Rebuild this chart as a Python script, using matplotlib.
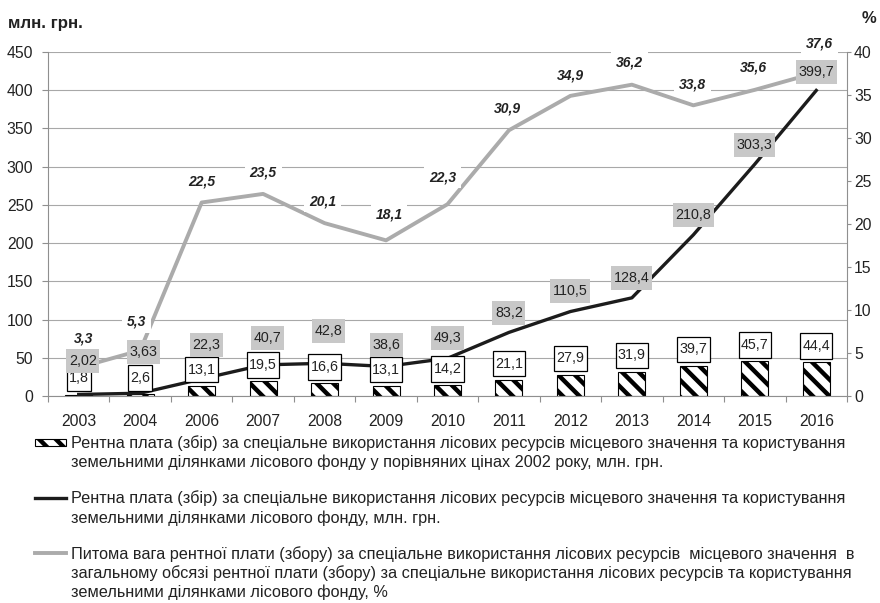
import numpy as np
import matplotlib
matplotlib.use("Agg")
import matplotlib.pyplot as plt
from matplotlib.patches import Rectangle
from matplotlib.lines import Line2D
from matplotlib.path import Path

# ---------------- data ----------------
years = ["2003", "2004", "2006", "2007", "2008", "2009", "2010",
         "2011", "2012", "2013", "2014", "2015", "2016"]
rent_real_2002 = [1.8, 2.6, 13.1, 19.5, 16.6, 13.1, 14.2, 21.1, 27.9, 31.9, 39.7, 45.7, 44.4]
rent_nominal = [2.02, 3.63, 22.3, 40.7, 42.8, 38.6, 49.3, 83.2, 110.5, 128.4, 210.8, 303.3, 399.7]
rent_share_pct = [3.3, 5.3, 22.5, 23.5, 20.1, 18.1, 22.3, 30.9, 34.9, 36.2, 33.8, 35.6, 37.6]
left_ticks = [0, 50, 100, 150, 200, 250, 300, 350, 400, 450]
right_ticks = [0, 5, 10, 15, 20, 25, 30, 35, 40]
unit_left = "млн. грн."
unit_right = "%"
legend_lines = [
    ["Рентна плата (збір) за спеціальне використання лісових ресурсів місцевого значення та користування",
     "земельними ділянками лісового фонду у порівняних цінах 2002 року, млн. грн."],
    ["Рентна плата (збір) за спеціальне використання лісових ресурсів місцевого значення та користування",
     "земельними ділянками лісового фонду, млн. грн."],
    ["Питома вага рентної плати (збору) за спеціальне використання лісових ресурсів  місцевого значення  в",
     "загальному обсязі рентної плати (збору) за спеціальне використання лісових ресурсів та користування",
     "земельними ділянками лісового фонду, %"],
]

# ---------------- label placement tweaks (pixels) ----------------
nominal_dx = [4, 3, 5, 4, 4, 0, 0, 0, 0, 0, 0, 0, 0]
nominal_gap = [21, 29, 22, 15, 20, 9.5, 8, 7, 8.5, 8, 8, 7, 6.5]
pct_dx = [5, -4, 0, 0, -2, 3, -5, -2, 0, -2, -1, -1, 3]
pct_dy = [29.6, 29, 20.5, 21, 22, 26, 27, 22, 20, 21.7, 21, 22, 29.6]


def fmt(v):
    return str(v).replace(".", ",")


FONT = "Liberation Sans"
plt.rcParams["font.family"] = [FONT, "DejaVu Sans"]
plt.rcParams["hatch.linewidth"] = 3.2
plt.rcParams["hatch.color"] = "black"
HATCH = "\\\\"

W, H = 880, 603
PX = 72.0 / 100.0  # points per pixel
fig = plt.figure(figsize=(8.8, 6.03), dpi=100)
fig.patch.set_facecolor("white")
L, R, B, T = 48, 847, 396, 52
ax = fig.add_axes([L / W, 1 - B / H, (R - L) / W, (B - T) / H])
ax2 = ax.twinx()


def rect_box(padx, pady):
    def box(x0, y0, width, height, mutation_size):
        px, py = padx * mutation_size, pady * mutation_size
        return Path([(x0 - px, y0 - py), (x0 + width + px, y0 - py),
                     (x0 + width + px, y0 + height + py), (x0 - px, y0 + height + py),
                     (x0 - px, y0 - py)], closed=True)
    return box


GRID = "#a8a8a8"
AXC = "#8f8f8f"
TXT = "#222222"
TICK_FS = 11.3
LBL_FS = 10.3
x = np.arange(len(years))

ax.bar(x, rent_real_2002, width=0.44, color="white", edgecolor="black",
       hatch=HATCH, linewidth=0.8, zorder=2)
ax.plot(x, rent_nominal, color="#1c1c1c", lw=2.4, zorder=3)
ax2.plot(x, rent_share_pct, color="#ababab", lw=2.8, zorder=2)

ax.set_xlim(-0.5, len(years) - 0.5)
ax.set_ylim(left_ticks[0], left_ticks[-1])
ax2.set_ylim(right_ticks[0], right_ticks[-1])
ax.set_yticks(left_ticks)
ax.set_yticklabels([str(t) for t in left_ticks])
ax2.set_yticks(right_ticks)
ax2.set_yticklabels([str(t) for t in right_ticks])
ax.yaxis.grid(True, color=GRID, lw=0.8)
ax.set_axisbelow(True)

ax.set_xticks(np.arange(-0.5, len(years), 1.0))
ax.set_xticklabels([])
ax.set_xticks(x, minor=True)
ax.set_xticklabels(years, minor=True)

for a in (ax, ax2):
    a.spines["top"].set_visible(False)
    for s in a.spines.values():
        s.set_color(AXC)
        s.set_linewidth(0.8)
ax.spines["right"].set_visible(False)
ax2.spines["left"].set_visible(False)
ax2.spines["bottom"].set_visible(False)

ax.tick_params(axis="y", direction="out", length=4.2, width=0.8, color=AXC,
               labelsize=TICK_FS, labelcolor=TXT, pad=6.5)
ax2.tick_params(axis="y", direction="out", length=3, width=0.8, color=AXC,
                labelsize=TICK_FS, labelcolor=TXT, pad=2)
ax.tick_params(axis="x", which="major", direction="out", length=4.5, width=0.8, color=AXC)
ax.tick_params(axis="x", which="minor", length=0, labelsize=TICK_FS, labelcolor=TXT, pad=13)

# bar value labels (white boxes)
bar_pady = 0.4
for i, v in enumerate(rent_real_2002):
    off = 3.5 + bar_pady * LBL_FS / PX
    ax2.annotate(fmt(v), xy=(x[i], v), xycoords=ax.transData,
                 xytext=(0, off * PX), textcoords="offset points",
                 ha="center", va="bottom", fontsize=LBL_FS, color=TXT, zorder=4,
                 annotation_clip=False,
                 bbox=dict(boxstyle=rect_box(0.16, bar_pady), fc="white", ec="black", lw=0.9))

# nominal line labels (grey boxes)
nom_pady = 0.36
for i, v in enumerate(rent_nominal):
    off = nominal_gap[i] + nom_pady * LBL_FS / PX
    ax2.annotate(fmt(v), xy=(x[i], v), xycoords=ax.transData,
                 xytext=(nominal_dx[i] * PX, off * PX), textcoords="offset points",
                 ha="center", va="bottom", fontsize=LBL_FS, color=TXT, zorder=5,
                 annotation_clip=False,
                 bbox=dict(boxstyle=rect_box(0.18, nom_pady), fc="#c8c8c8", ec="none"))

# share labels (bold italic)
for i, v in enumerate(rent_share_pct):
    ax2.annotate(fmt(v), xy=(x[i], v), xycoords=ax2.transData,
                 xytext=(pct_dx[i] * PX, pct_dy[i] * PX), textcoords="offset points",
                 ha="center", va="center", fontsize=10, fontweight="bold", fontstyle="italic",
                 color=TXT, zorder=6, annotation_clip=False,
                 bbox=dict(boxstyle=rect_box(0.35, 0.3), fc="white", ec="none"))

# unit labels
fig.text(8 / W, 1 - 28 / H, unit_left, fontsize=12.2, fontweight="bold",
         color=TXT, va="baseline", ha="left")
fig.text(862 / W, 1 - 23 / H, unit_right, fontsize=12, fontweight="bold",
         color=TXT, va="baseline", ha="left")

# legend (manual)
baselines = [[448, 467.5], [503.5, 523], [558.5, 578, 597.5]]
for lines, bl in zip(legend_lines, baselines):
    for txt, yb in zip(lines, bl):
        fig.text(71 / W, 1 - yb / H, txt, fontsize=11.7, color=TXT,
                 va="baseline", ha="left")
hy = [bl[0] - 6 for bl in baselines]
fig.add_artist(Rectangle((35 / W, 1 - (hy[0] + 3.5) / H), 31 / W, 7 / H,
                         transform=fig.transFigure, fc="white", ec="black",
                         hatch=HATCH, lw=0.8))
fig.add_artist(Line2D([35 / W, 66 / W], [1 - hy[1] / H] * 2, transform=fig.transFigure,
                      color="#1c1c1c", lw=2.4))
fig.add_artist(Line2D([35 / W, 66 / W], [1 - hy[2] / H] * 2, transform=fig.transFigure,
                      color="#ababab", lw=2.8))

fig.savefig("out.png", dpi=100, facecolor="white")
